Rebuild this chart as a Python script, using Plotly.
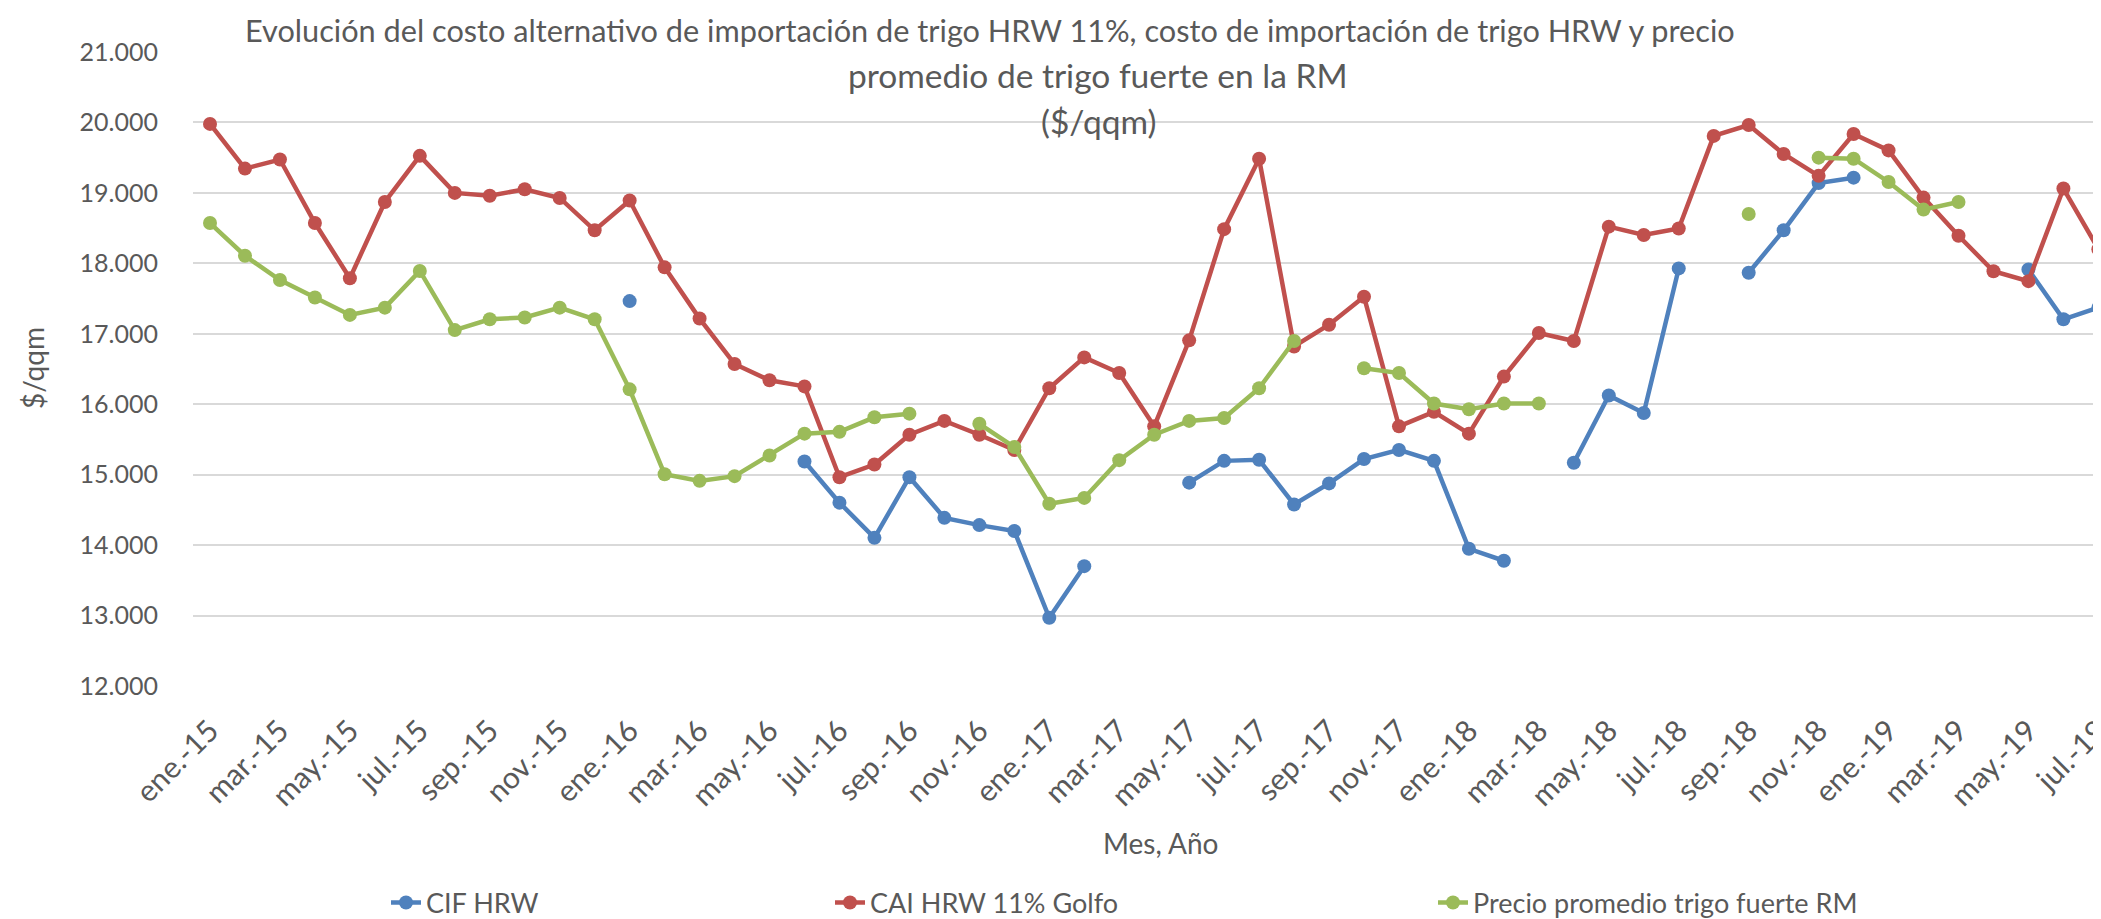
import plotly.graph_objects as go

months = []
for yr in ["15", "16", "17", "18", "19"]:
    for m in ["ene", "feb", "mar", "abr", "may", "jun", "jul", "ago", "sep", "oct", "nov", "dic"]:
        months.append(f"{m}.-{yr}")
months = months[:55]  # ene.-15 .. jul.-19

N = None
cif_hrw = [
    N, N, N, N, N, N, N, N, N, N, N, N,                       # 2015
    17464, N, N, N, N, 15186, 14603, 14103, 14964, 14387, 14284, 14201,   # 2016
    12969, 13701, N, N, 14887, 15196, 15211, 14577, 14876, 15222, 15351, 15196,  # 2017
    13948, 13778, N, 15170, 16124, 15876, 17928, N, 17866, 18469, 19139, 19216,  # 2018
    N, N, N, N, 17912, 17206, 17371,                          # 2019
]
cai_hrw = [
    19979, 19345, 19474, 18572, 17789, 18871, 19526, 19000, 18959, 19052, 18928, 18469,
    18892, 17943, 17216, 16572, 16340, 16253, 14964, 15144, 15567, 15763, 15567, 15351,
    16227, 16665, 16443, 15686, 16907, 18485, 19485, 16820, 17129, 17526, 15686, 15892,
    15582, 16392, 17010, 16897, 18521, 18402, 18495, 19809, 19964, 19552, 19242, 19835,
    19603, 18933, 18392, 17887, 17747, 19062, 18201,
]
precio_rm = [
    18572, 18108, 17763, 17515, 17268, 17371, 17892, 17052, 17206, 17232, 17371, 17206,
    16211, 15005, 14912, 14979, 15273, 15582, 15608, 15814, 15866, N, 15722, 15392,
    14588, 14670, 15206, 15567, 15763, 15804, 16227, 16897, N, 16510, 16443, 16010,
    15928, 16010, 16010, N, N, N, N, N, 18701, N, 19500, 19485,
    19155, 18763, 18871, N, N, N, N,
]

series_names = ["CIF HRW", "CAI HRW 11% Golfo", "Precio promedio trigo fuerte RM"]
series_colors = ["#4F81BD", "#C0504D", "#9BBB59"]
y_ticks = [12000, 13000, 14000, 15000, 16000, 17000, 18000, 19000, 20000, 21000]
y_ticktext = ["12.000", "13.000", "14.000", "15.000", "16.000", "17.000", "18.000", "19.000", "20.000", "21.000"]

# the page body has an 8px default margin, so the figure is drawn from (8, 8)
OFF = 8
WIN_W, WIN_H = 2101, 919
W, H = WIN_W - OFF, WIN_H - OFF
PLOT_L, PLOT_R, PLOT_T, PLOT_B = 193, 2101, 52, 686
FONT = "Lato, 'Open Sans', sans-serif"
GREY = "#595959"

def px(x):
    return (x - OFF) / W

def py(y):
    return 1 - (y - OFF) / H

fig = go.Figure()
legends = ["legend", "legend2", "legend3"]
for name, vals, col, lg in zip(series_names, [cif_hrw, cai_hrw, precio_rm], series_colors, legends):
    fig.add_trace(go.Scatter(
        x=months, y=vals, name=name, mode="lines+markers",
        line=dict(color=col, width=4.5), marker=dict(color=col, size=14),
        connectgaps=False, legend=lg,
    ))

leg_common = dict(orientation="h", yanchor="middle", xanchor="left", bgcolor="rgba(0,0,0,0)",
                  font=dict(family=FONT, size=27, color=GREY))
fig.update_layout(
    width=W, height=H,
    margin=dict(l=0, r=0, t=0, b=0, pad=0, autoexpand=False),
    paper_bgcolor="white", plot_bgcolor="white",
    font=dict(family=FONT, color=GREY),
    legend=dict(x=px(386), y=py(903), **leg_common),
    legend2=dict(x=px(830), y=py(903), **leg_common),
    legend3=dict(x=px(1433), y=py(903), **leg_common),
    xaxis=dict(
        domain=[px(PLOT_L), px(PLOT_R)],
        type="category", categoryorder="array", categoryarray=months,
        range=[(PLOT_L - 210) / 34.97, (PLOT_R - 210) / 34.97],
        tickmode="array", tickvals=months[::2], tickangle=-45,
        tickfont=dict(family=FONT, size=30, color=GREY),
        showgrid=False, showline=False, zeroline=False, ticks="",
        ticklabelstandoff=20, automargin=False,
    ),
    yaxis=dict(
        domain=[py(PLOT_B), py(PLOT_T)],
        range=[12000, 21000], tickvals=y_ticks, ticktext=y_ticktext,
        tickfont=dict(family=FONT, size=25, color=GREY),
        showgrid=True, gridcolor="#D9D9D9", gridwidth=1.5,
        zeroline=False, showline=False, ticks="", ticklabelstandoff=34,
        automargin=False,
    ),
    showlegend=True,
)

annotations = [
    dict(text="Evolución del costo alternativo de importación de trigo HRW 11%, costo de importación de trigo HRW y precio",
         x=px(243), y=py(30), xanchor="left", yanchor="middle", font=dict(size=30.7)),
    dict(text="promedio de trigo fuerte en la RM", x=px(1098), y=py(75), xanchor="center", yanchor="middle", font=dict(size=33.5)),
    dict(text="($/qqm)", x=px(1098), y=py(121), xanchor="center", yanchor="middle", font=dict(size=33.5)),
    dict(text="Mes, Año", x=px(1160), y=py(843), xanchor="center", yanchor="middle", font=dict(size=28)),
    dict(text="$/qqm", x=px(33), y=py(368), xanchor="center", yanchor="middle", textangle=-90, font=dict(size=28)),
]
for a in annotations:
    a.update(xref="paper", yref="paper", showarrow=False)
    a["font"].update(family=FONT, color=GREY)
    fig.add_annotation(**a)

fig.write_html("out.html")
